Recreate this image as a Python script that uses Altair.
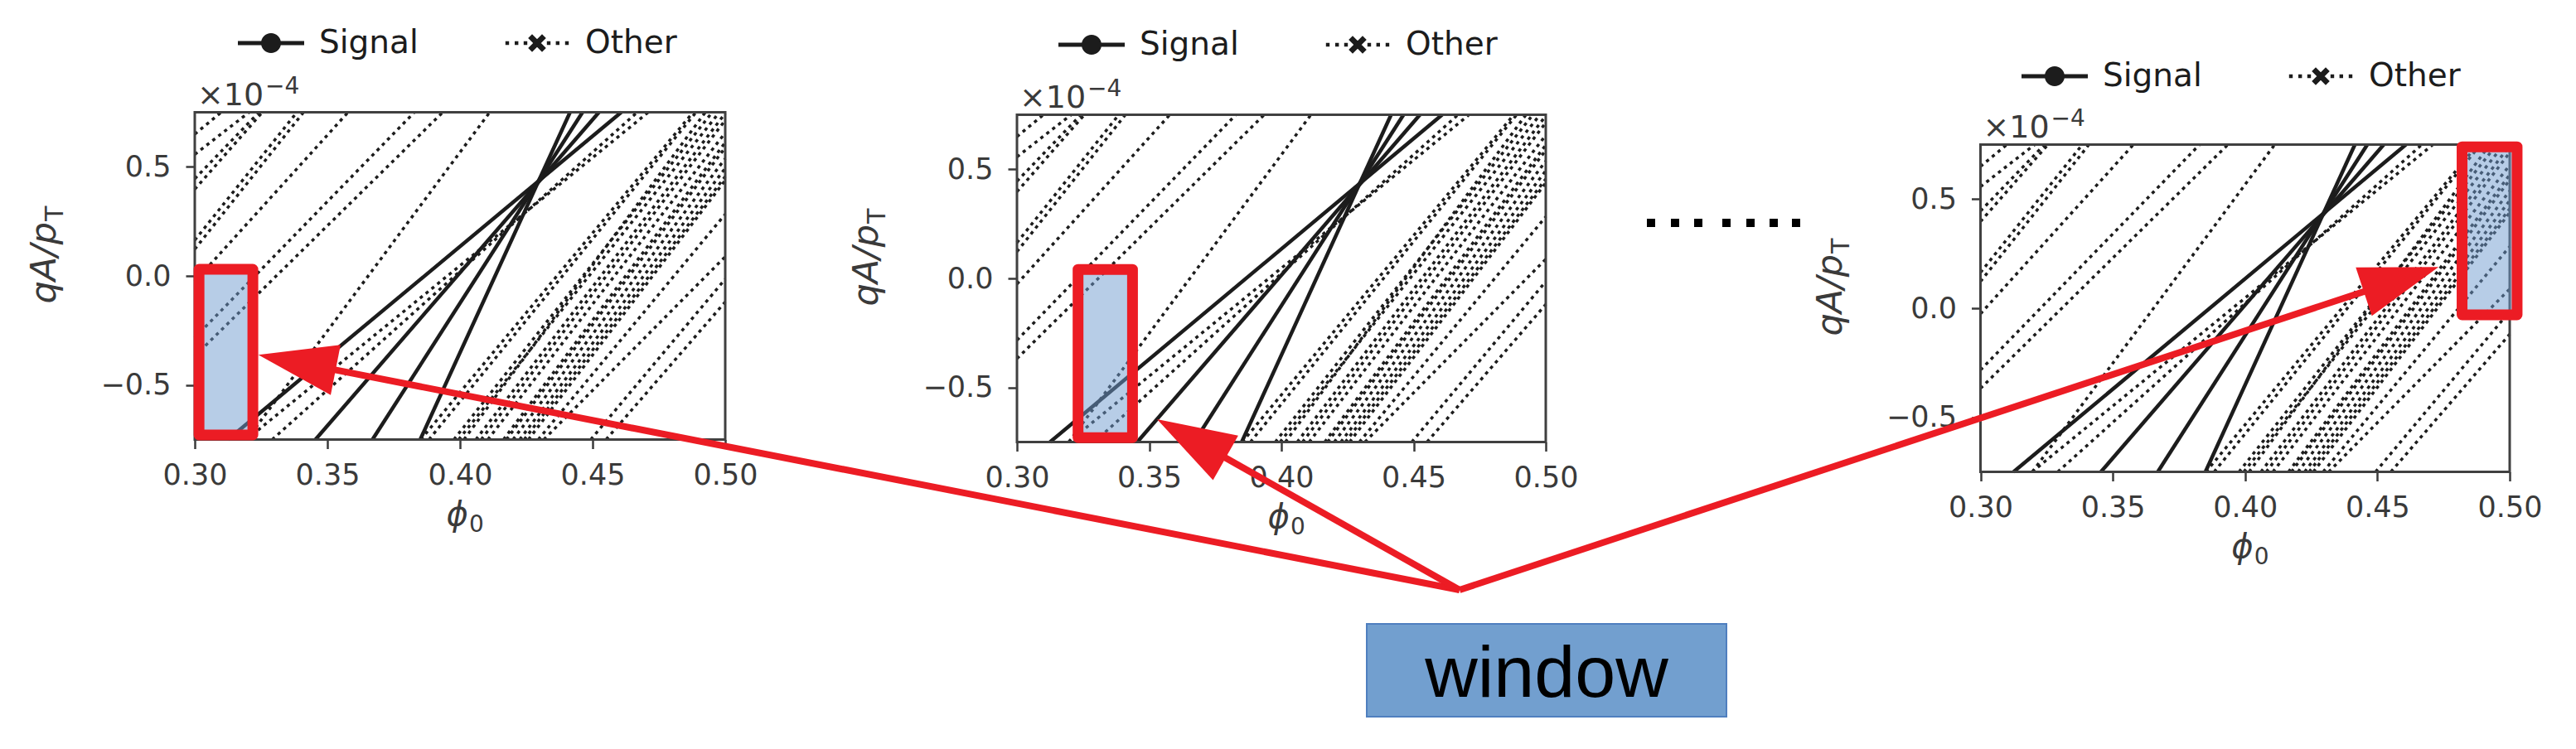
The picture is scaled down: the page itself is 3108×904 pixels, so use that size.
import math
import altair as alt
import pandas as pd

# ------------------------------------------------------------------ data
PHI0_DOMAIN = [0.30, 0.50]
QAPT_DOMAIN = [-0.75, 0.75]          # qA/pT in units of 1e-4
QAPT_ENDS = [-0.75, 0.75]            # each track is read at these two qA/pT values
x_ticks = [0.30, 0.35, 0.40, 0.45, 0.50]
y_ticks = [-0.5, 0.0, 0.5]
series_names = ["Signal", "Other"]

# phi0 of each straight track line at qA/pT = -0.75 (bottom) and +0.75 (top)
signal_phi0_bottom = [0.3125, 0.3455, 0.3670, 0.3850]
signal_phi0_top = [0.4608, 0.4524, 0.4462, 0.4415]

other_phi0_bottom = [0.160, 0.161, 0.205, 0.217, 0.240, 0.243, 0.246, 0.2626, 0.268, 0.3196,
                     0.3195, 0.3292,
                     0.3852, 0.3883, 0.3977, 0.3995, 0.4015, 0.4060, 0.4080, 0.4105, 0.4164,
                     0.4175, 0.4200, 0.4225, 0.4242, 0.4258, 0.4295, 0.4316, 0.4493, 0.4551]
other_phi0_top = [0.310, 0.3205, 0.3242, 0.3255, 0.3385, 0.3410, 0.3578, 0.3828, 0.3935, 0.4112,
                  0.4710, 0.4668,
                  0.4879, 0.4890, 0.4951, 0.4978, 0.4925, 0.5003, 0.5023, 0.5060, 0.5085,
                  0.5100, 0.5132, 0.5160, 0.5185, 0.5195, 0.5319, 0.5540, 0.5527, 0.5619]

# sliding window drawn in each of the three panels (data units)
window_phi0_lo = [0.3016, 0.3231, 0.4820]
window_phi0_hi = [0.3219, 0.3437, 0.5028]
window_qapt_lo = [-0.729, -0.730, -0.030]
window_qapt_hi = [0.030, 0.041, 0.740]

# ------------------------------------------------------------------ layout (reference pixels)
REF_W, REF_H = 3108, 904
M = 8                                   # page margin
W, H = REF_W - 2 * M, REF_H - 2 * M
panel_left = [235.0, 1227.0, 2389.5]
panel_right = [875.0, 1865.0, 3028.0]
panel_top = [135.5, 138.5, 174.5]
panel_bottom = [530.5, 533.5, 569.5]
legend_left = [287, 1277, 2439]
legend_top = [12, 14, 52]

# overlay annotation geometry (reference pixels)
arrow_tail = (1761, 712)
arrow_tip_x = [311.7, 1396.0, 2942.2]
arrow_tip_y = [428.3, 506.0, 322.2]
window_box = (1649, 753, 2083, 865)
dots_x = [1992, 2021, 2049, 2083, 2112, 2140, 2167]
dots_y = 269

# ------------------------------------------------------------------ styles
FONT = "DejaVu Sans"
INK = "#1c1c1c"
AXC = "#3a3a3a"
RED = "#ec1c24"
WIN_FILL = "#6f9bd0"
BOX_FILL = "#729fcf"
BOX_EDGE = "#4f7fbf"
HEAD_LEN = 95.0

SIGNAL_SYMBOL = ("M-1,-0.06H1V0.06H-1Z "
                 "M0.3,0A0.3,0.3 0 1,1 -0.3,0A0.3,0.3 0 1,1 0.3,0Z")


def _dot(cx):
    h = 0.055
    return f"M{cx - h:.3f},{-h}H{cx + h:.3f}V{h}H{cx - h:.3f}Z "


OTHER_SYMBOL = "".join(_dot(c) for c in [-0.9, -0.62, -0.35, 0.35, 0.62, 0.9]) + (
    "M0.15,0.27L0.27,0.15L-0.15,-0.27L-0.27,-0.15Z "
    "M0.27,-0.15L0.15,-0.27L-0.27,0.15L-0.15,0.27Z")
ARROW_HEAD = "M0,0L-2,-0.65L-2,0.65Z"


def clip_track(xb, xt):
    lo, hi = PHI0_DOMAIN
    y0, y1 = QAPT_ENDS
    dx = xt - xb
    t0, t1 = 0.0, 1.0
    if dx != 0:
        ta, tb = (lo - xb) / dx, (hi - xb) / dx
        t0, t1 = max(t0, min(ta, tb)), min(t1, max(ta, tb))
    if t0 >= t1:
        return None
    return [(xb + dx * t, y0 + (y1 - y0) * t) for t in (t0, t1)]


def tracks_df(bottoms, tops, series):
    rows = []
    for k, (b, t) in enumerate(zip(bottoms, tops)):
        seg = clip_track(b, t)
        if seg is None:
            continue
        for o, (x, y) in enumerate(seg):
            rows.append({"track": f"{series}{k}", "series": series, "order": o,
                         "phi0": x, "qapt": y})
    return pd.DataFrame(rows)


signal_df = tracks_df(signal_phi0_bottom, signal_phi0_top, "Signal")
other_df = tracks_df(other_phi0_bottom, other_phi0_top, "Other")
legend_df = pd.concat([signal_df.head(1), other_df.head(1)])
frame_df = pd.DataFrame([{"x0": PHI0_DOMAIN[0], "x1": PHI0_DOMAIN[1],
                          "xc": sum(PHI0_DOMAIN) / 2,
                          "y0": QAPT_DOMAIN[0], "y1": QAPT_DOMAIN[1], "yz": 0.0}])


def panel_layers(i):
    L, R = panel_left[i] - M, panel_right[i] - M
    T, B = panel_top[i] - M, panel_bottom[i] - M
    xs = alt.Scale(domain=PHI0_DOMAIN, range=[L, R], nice=False, zero=False)
    ys = alt.Scale(domain=QAPT_DOMAIN, range=[B, T], nice=False, zero=False)

    def ex(f):
        return alt.X(f, scale=xs, axis=None)

    def ey(f):
        return alt.Y(f, scale=ys, axis=None)

    def label(text, xf, yf, **kw):
        base = dict(text=text, font=FONT, color=AXC)
        base.update(kw)
        return alt.Chart(frame_df).mark_text(**base).encode(x=ex(xf), y=ey(yf))

    other = alt.Chart(other_df).mark_line(
        color=INK, strokeWidth=3.5, strokeDash=[4, 5]
    ).encode(x=ex("phi0:Q"), y=ey("qapt:Q"), detail="track:N", order="order:Q")

    signal = alt.Chart(signal_df).mark_line(color=INK, strokeWidth=4.5).encode(
        x=ex("phi0:Q"), y=ey("qapt:Q"), detail="track:N", order="order:Q")

    frame = alt.Chart(frame_df).mark_rect(filled=False, color="#404040", strokeWidth=3).encode(
        x=alt.X("x0:Q", scale=xs, axis=alt.Axis(
            orient="bottom", offset=B - H, values=x_ticks, format=".2f",
            domain=False, grid=False, tickSize=11, tickWidth=2.5, tickColor=AXC,
            labelFont=FONT, labelFontSize=35, labelColor=AXC, labelPadding=15,
            labelFlush=False, labelOverlap=False, title=None)),
        x2="x1:Q",
        y=alt.Y("y0:Q", scale=ys, axis=alt.Axis(
            orient="left", offset=-L, values=y_ticks, format=".1f",
            domain=False, grid=False, tickSize=11, tickWidth=2.5, tickColor=AXC,
            labelFont=FONT, labelFontSize=35, labelColor=AXC, labelPadding=18,
            labelOverlap=False, title=None)),
        y2="y1:Q")

    wdf = pd.DataFrame([{"x0": window_phi0_lo[i], "x1": window_phi0_hi[i],
                         "y0": window_qapt_lo[i], "y1": window_qapt_hi[i]}])
    window = alt.Chart(wdf).mark_rect(
        fill=WIN_FILL, fillOpacity=0.5, stroke=RED, strokeWidth=13, strokeJoin="round"
    ).encode(x=ex("x0:Q"), x2="x1:Q", y=ey("y0:Q"), y2="y1:Q")

    # matplotlib-style offset text "x10^-4"
    mult = label("×10", "x0:Q", "y1:Q", align="left", baseline="alphabetic",
                 dx=3, dy=-9, fontSize=38)
    mult_exp = label("−4", "x0:Q", "y1:Q", align="left", baseline="alphabetic",
                     dx=85, dy=-23, fontSize=28)

    # y title qA/p_T (rotated)
    ytitle = label("qA/p", "x0:Q", "yz:Q", angle=270, align="right", baseline="alphabetic",
                   dx=65, dy=-168, fontSize=43, fontStyle="italic")
    ysub = label("T", "x0:Q", "yz:Q", angle=270, align="left", baseline="alphabetic",
                 dx=66, dy=-159, fontSize=30)

    # x title phi_0
    xtitle = label("ϕ", "xc:Q", "y0:Q", align="right", baseline="alphabetic",
                   dx=10, dy=103, fontSize=40, fontStyle="italic")
    xsub = label("0", "xc:Q", "y0:Q", align="left", baseline="alphabetic",
                 dx=11, dy=111, fontSize=28)

    legend = alt.Chart(legend_df).mark_point(filled=True, opacity=0, color=INK).encode(
        x=ex("phi0:Q"), y=ey("qapt:Q"),
        shape=alt.Shape("series:N",
                        scale=alt.Scale(domain=series_names,
                                        range=[SIGNAL_SYMBOL, OTHER_SYMBOL]),
                        legend=alt.Legend(
                            orient="none", legendX=legend_left[i] - M,
                            legendY=legend_top[i] - M, direction="horizontal",
                            title=None, padding=0, symbolSize=6400,
                            symbolStrokeWidth=0, symbolFillColor=INK,
                            symbolStrokeColor=INK, symbolOpacity=1,
                            labelFont=FONT, labelFontSize=39, labelColor=INK,
                            labelOffset=18, columnPadding=103)))
    return [other, signal, frame, window, mult, mult_exp, ytitle, ysub, xtitle, xsub, legend]


# ------------------------------------------------------------------ overlay (reference-pixel canvas)
cx = alt.Scale(domain=[0, REF_W], range=[-M, REF_W - M], nice=False, zero=False)
cy = alt.Scale(domain=[0, REF_H], range=[-M, REF_H - M], nice=False, zero=False)

arrow_rows = []
for tx, ty in zip(arrow_tip_x, arrow_tip_y):
    dx, dy = tx - arrow_tail[0], ty - arrow_tail[1]
    ln = math.hypot(dx, dy)
    ux, uy = dx / ln, dy / ln
    arrow_rows.append({"tail_x": arrow_tail[0], "tail_y": arrow_tail[1],
                       "end_x": tx - 0.5 * HEAD_LEN * ux, "end_y": ty - 0.5 * HEAD_LEN * uy,
                       "tip_x": tx, "tip_y": ty,
                       "angle": math.degrees(math.atan2(dy, dx)) % 360})
arrow_df = pd.DataFrame(arrow_rows)

arrows = alt.Chart(arrow_df).mark_rule(color=RED, strokeWidth=8).encode(
    x=alt.X("tail_x:Q", scale=cx, axis=None), y=alt.Y("tail_y:Q", scale=cy, axis=None),
    x2="end_x:Q", y2="end_y:Q")
heads = alt.Chart(arrow_df).mark_point(
    shape=ARROW_HEAD, filled=True, color=RED, opacity=1, size=HEAD_LEN ** 2
).encode(x=alt.X("tip_x:Q", scale=cx, axis=None), y=alt.Y("tip_y:Q", scale=cy, axis=None),
         angle=alt.Angle("angle:Q", scale=None))

box_df = pd.DataFrame([{"x0": window_box[0], "y0": window_box[1], "x1": window_box[2],
                        "y1": window_box[3], "xm": (window_box[0] + window_box[2]) / 2,
                        "ym": (window_box[1] + window_box[3]) / 2, "label": "window"}])
box = alt.Chart(box_df).mark_rect(color=BOX_FILL, stroke=BOX_EDGE, strokeWidth=2).encode(
    x=alt.X("x0:Q", scale=cx, axis=None), x2="x1:Q",
    y=alt.Y("y0:Q", scale=cy, axis=None), y2="y1:Q")
box_text = alt.Chart(box_df).mark_text(
    font="Liberation Sans", fontSize=88, align="center", baseline="middle", dy=6, color="black"
).encode(x=alt.X("xm:Q", scale=cx, axis=None), y=alt.Y("ym:Q", scale=cy, axis=None),
         text="label:N")

dots_df = pd.DataFrame({"x": dots_x, "y": [dots_y] * len(dots_x)})
dots = alt.Chart(dots_df).mark_square(filled=True, size=100, color="black", opacity=1).encode(
    x=alt.X("x:Q", scale=cx, axis=None), y=alt.Y("y:Q", scale=cy, axis=None))

layers = panel_layers(0) + panel_layers(1) + panel_layers(2) + [dots, arrows, heads, box, box_text]

chart = (
    alt.layer(*layers)
    .resolve_scale(x="independent", y="independent", shape="independent")
    .resolve_axis(x="independent", y="independent")
    .resolve_legend(shape="independent")
    .properties(width=W, height=H, padding=0,
                autosize=alt.AutoSizeParams(type="none"), background="white")
    .configure_view(strokeWidth=0)
)

chart.save("out.html", embed_options={"renderer": "svg", "actions": False})
